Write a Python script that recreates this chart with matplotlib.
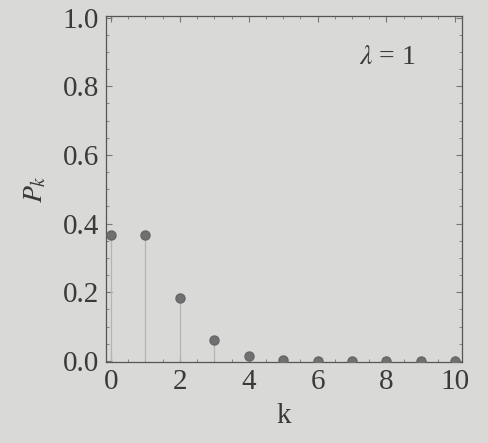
import numpy as np
import matplotlib.pyplot as plt
from matplotlib.ticker import MultipleLocator

# Poisson probabilities (lambda = 1)
k = [0, 1, 2, 3, 4, 5, 6, 7, 8, 9, 10]
pk = [0.368, 0.368, 0.184, 0.061, 0.015, 0.003, 0.0005, 0.0001, 0.0, 0.0, 0.0]

plt.rcParams['font.family'] = ['Liberation Serif', 'DejaVu Serif']
plt.rcParams['mathtext.fontset'] = 'stix'

bg = '#d9d9d7'
ink = '#3a3a3a'

fig = plt.figure(figsize=(4.88, 4.43), dpi=100, facecolor=bg)
ax = fig.add_axes([0.217, 0.183, 0.730, 0.781], facecolor=bg)

ax.vlines(k, 0, pk, color='#b4b4b4', lw=0.9, zorder=2)
ax.plot(k, pk, 'o', color='#707070', ms=6.5, mec='#666666', zorder=3)

ax.set_xlim(-0.15, 10.2)
ax.set_ylim(-0.003, 1.005)
ax.xaxis.set_major_locator(MultipleLocator(2))
ax.xaxis.set_minor_locator(MultipleLocator(0.5))
ax.yaxis.set_major_locator(MultipleLocator(0.2))
ax.yaxis.set_minor_locator(MultipleLocator(0.05))
ax.set_yticklabels(['%.1f' % v for v in ax.get_yticks()])

ax.tick_params(which='both', direction='in', top=True, right=True, colors='#777777',
               labelcolor=ink, labelsize=21)
ax.tick_params(which='major', length=4, width=0.8)
ax.tick_params(which='minor', length=2, width=0.6)
ax.tick_params(axis='x', pad=5)
ax.tick_params(axis='y', pad=5)
for s in ax.spines.values():
    s.set_color('#555555')
    s.set_linewidth(0.9)

ax.set_xlabel('k', fontsize=21, color=ink, labelpad=6)
ax.set_ylabel('$P_k$', fontsize=20, color=ink, labelpad=10)
ax.text(0.79, 0.88, r'$\lambda$ = 1', transform=ax.transAxes, fontsize=20,
        color=ink, ha='center', va='center')

fig.savefig('out.png', dpi=100, facecolor=bg)
